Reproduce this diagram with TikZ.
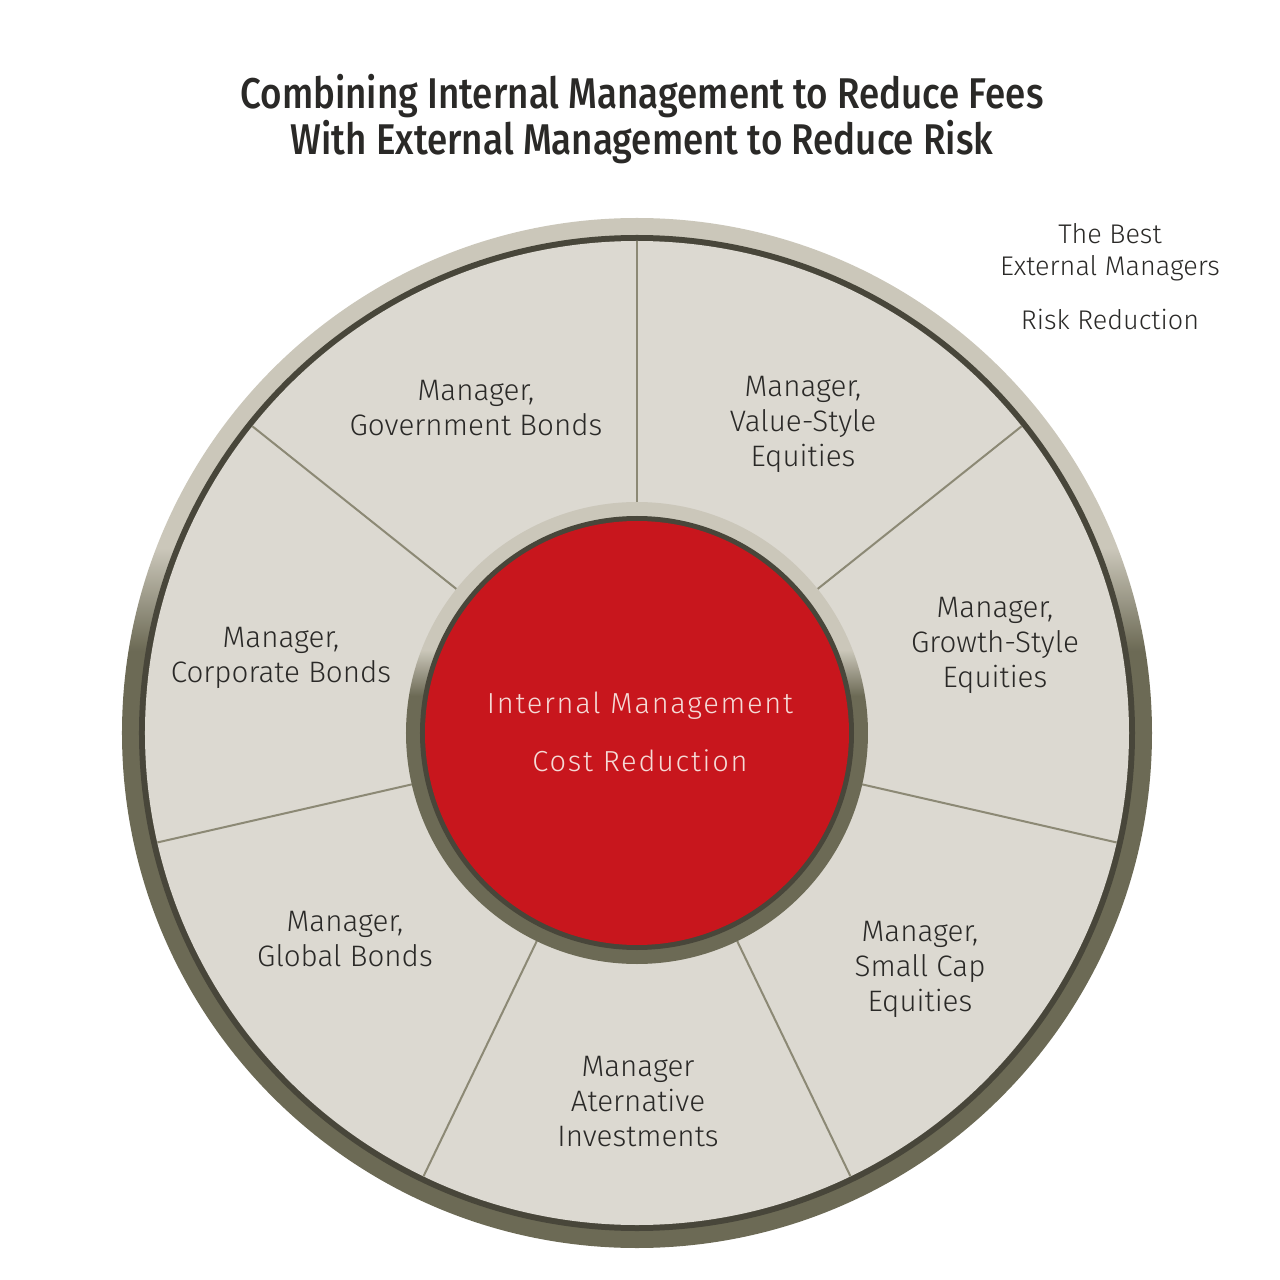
\documentclass[tikz,border=0pt]{standalone}
\usepackage{fontspec}
\setmainfont{Fira Sans Light}
\newfontfamily\titlefont{Fira Sans Medium}[FakeStretch=0.855]
\definecolor{beige}{HTML}{DCD9D1}
\definecolor{ringlight}{HTML}{CBC7BA}
\definecolor{ringdark}{HTML}{6C6A55}
\definecolor{bandcol}{HTML}{48463A}
\definecolor{linecol}{HTML}{8C8975}
\definecolor{mgrred}{HTML}{C8161D}
\definecolor{paletext}{HTML}{F5DAD6}
\definecolor{txtgray}{HTML}{2A2927}
\pgfdeclareverticalshading{ringshade}{100bp}{color(0bp)=(ringdark); color(54bp)=(ringdark); color(59bp)=(ringlight); color(100bp)=(ringlight)}
\begin{document}
\begin{tikzpicture}[x=.5pt, y=.5pt,
  mgr/.style={align=center, text=txtgray, font=\fontsize{14.8}{17.5}\selectfont},
  core/.style={text=paletext, font=\fontsize{14.5}{17.5}\selectfont\addfontfeature{LetterSpace=6}}]
 \useasboundingbox (-637,-547) rectangle (643,733);
 % outer ring
 \shade[shading=ringshade](0,0)circle(515);
 \fill[bandcol](0,0)circle(498);
 \fill[beige](0,0)circle(492);
 \foreach \a in {0,...,6}
 {
     \draw[linecol, line width=1pt](90+\a*360/7:231)--(90+\a*360/7:492);
 }
 % inner ring
 \shade[shading=ringshade](0,0)circle(231);
 \fill[bandcol](0,0)circle(217);
 \fill[mgrred](0,0)circle(212);
 \node (title) at (5,614)[align=center, text=txtgray, font=\titlefont\fontsize{21.5}{23}\selectfont]{Combining Internal Management to Reduce Fees\\With External Management to Reduce Risk};
 \node (core) at (3,27)[core]{Internal Management};
 \node (cost) at (3,-28)[core]{Cost Reduction};
 \node (gov) at (-161,325)[mgr]{Manager,\\Government Bonds};
 \node (value) at (166,309)[mgr]{Manager,\\Value-Style\\Equities};
 \node (growth) at (358,88)[mgr]{Manager,\\Growth-Style\\Equities};
 \node (smallcap) at (283,-236)[mgr]{Manager,\\Small Cap\\Equities};
 \node (alt) at (1,-369)[mgr]{Manager\\Aternative\\Investments};
 \node (global) at (-292,-206)[mgr]{Manager,\\Global Bonds};
 \node (corp) at (-356,75)[mgr]{Manager,\\Corporate Bonds};
 \node (best) at (473,481)[align=center, text=txtgray, font=\fontsize{13.5}{16}\selectfont]{The Best\\External Managers};
 \node (risk) at (473,414)[text=txtgray, font=\fontsize{13.5}{16}\selectfont]{Risk Reduction};
\end{tikzpicture}
\end{document}
